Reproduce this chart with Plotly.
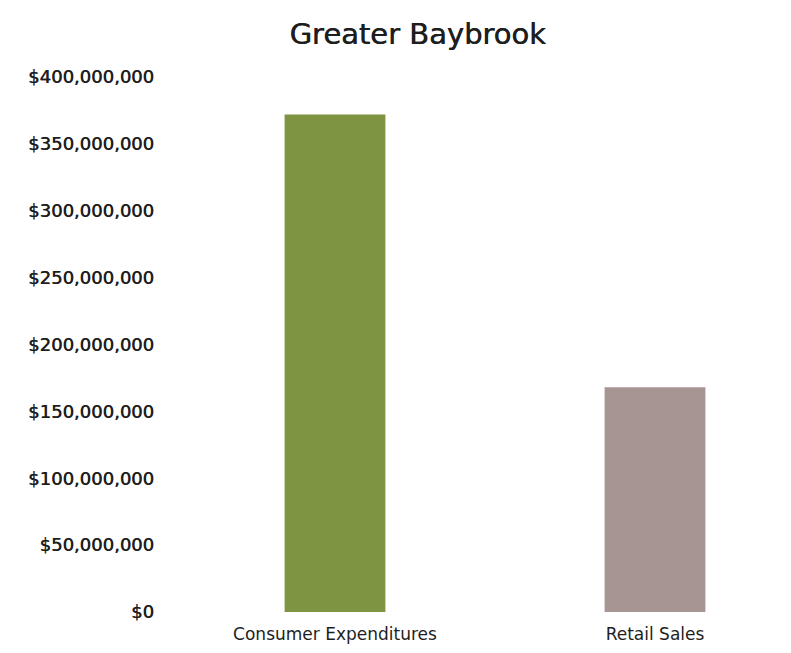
import plotly.graph_objects as go

categories = ["Consumer Expenditures", "Retail Sales"]
values = [372000000, 168000000]
colors = ["#7f9443", "#a69592"]
y_ticks = [0, 50000000, 100000000, 150000000, 200000000, 250000000, 300000000, 350000000, 400000000]
y_tick_labels = ["$0", "$50,000,000", "$100,000,000", "$150,000,000", "$200,000,000",
                 "$250,000,000", "$300,000,000", "$350,000,000", "$400,000,000"]

FONT = "'DejaVu Sans', sans-serif"
SHADOW = "0.5px 0 0 #1e1e1e"

fig = go.Figure()
fig.add_trace(go.Bar(
    x=list(range(len(categories))), y=values,
    marker=dict(color=colors, line=dict(width=0)),
    width=0.315,
))

fig.update_layout(
    width=791, height=653,
    margin=dict(l=175, r=0, t=77, b=41),
    paper_bgcolor="white", plot_bgcolor="white",
    showlegend=False,
    title=dict(text="Greater Baybrook", x=0.528, xanchor="center", y=0.948, yanchor="middle",
               font=dict(family=FONT, size=29, color="#1e1e1e", shadow=SHADOW)),
    font=dict(family=FONT, color="#1e1e1e"),
)
fig.update_xaxes(
    range=[-0.5, 1.425], tickmode="array", tickvals=list(range(len(categories))),
    ticktext=categories, showgrid=False, zeroline=False, showline=False,
    tickfont=dict(size=17, color="#1e1e1e"), ticks="", ticklabelstandoff=10,
)
fig.update_yaxes(
    range=[0, 400000000], tickmode="array", tickvals=y_ticks, ticktext=y_tick_labels,
    showgrid=False, zeroline=False, showline=False,
    tickfont=dict(size=18, color="#1e1e1e", shadow=SHADOW), ticks="", ticklabelstandoff=20,
)

fig.write_html("out.html")
